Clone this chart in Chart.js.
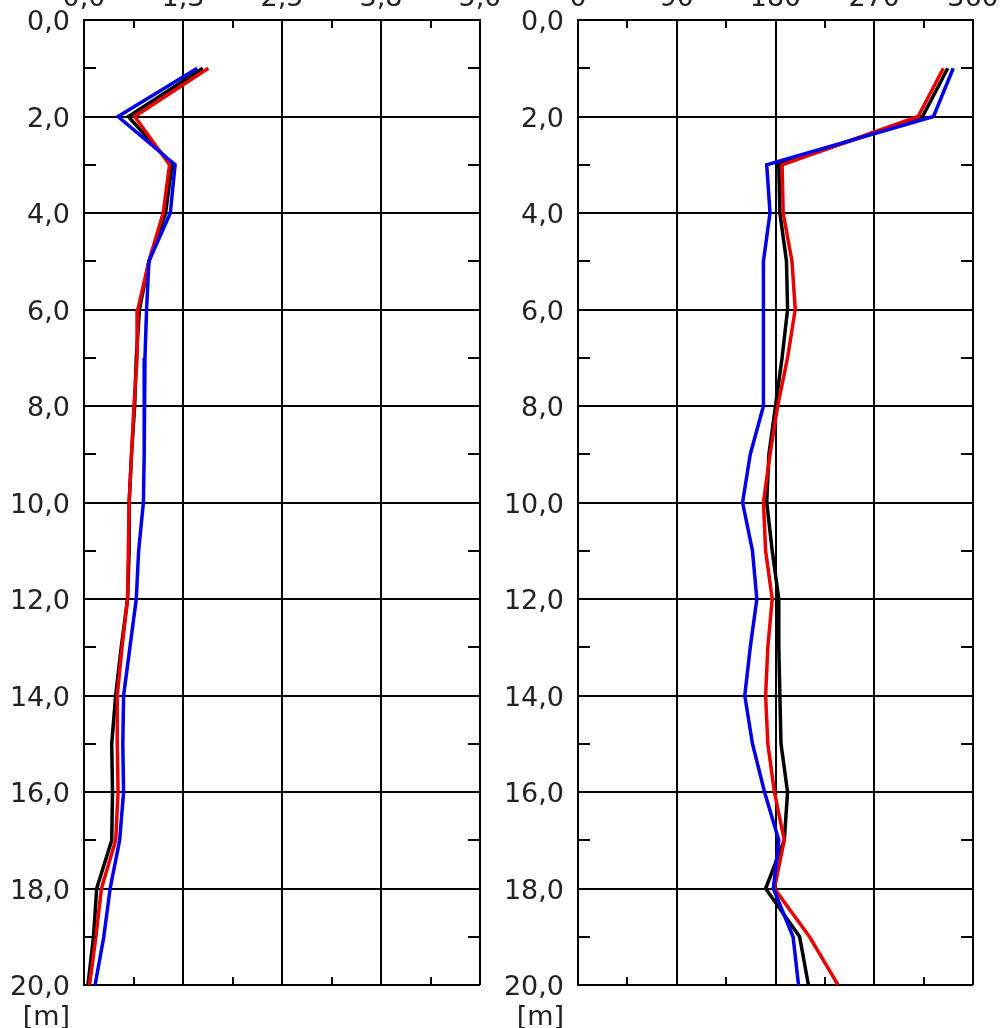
<!DOCTYPE html>
<html>
<head>
<meta charset="utf-8">
<script src="https://cdn.jsdelivr.net/npm/chart.js@4/dist/chart.umd.min.js"></script>
<style>
  html, body { margin: 0; padding: 0; background: #ffffff; overflow: hidden; }
  .wrap { position: absolute; left: 0; top: 0; width: 1005px; height: 1028px; }
</style>
</head>
<body>
<div class="wrap"><canvas id="c1" width="1005" height="1028"></canvas></div>
<div class="wrap"><canvas id="c2" width="1005" height="1028"></canvas></div>
<script>
// ---- Data ----
const depths = [1, 2, 3, 4, 5, 6, 7, 8, 9, 10, 11, 12, 13, 14, 15, 16, 17, 18, 19, 20];

// left panel (0 – 5)
const leftBlack = [1.50, 0.56, 1.11, 1.03, 0.82, 0.70, 0.66, 0.64, 0.60, 0.57, 0.57, 0.55, 0.47, 0.40, 0.35, 0.36, 0.35, 0.16, 0.12, 0.05];
const leftRed   = [1.57, 0.64, 1.08, 1.00, 0.82, 0.68, 0.67, 0.63, 0.60, 0.57, 0.56, 0.55, 0.48, 0.42, 0.42, 0.43, 0.40, 0.22, 0.15, 0.07];
const leftBlue  = [1.43, 0.43, 1.15, 1.09, 0.82, 0.79, 0.77, 0.76, 0.76, 0.75, 0.69, 0.66, 0.58, 0.50, 0.49, 0.50, 0.45, 0.33, 0.25, 0.14];

// right panel (0 – 360)
const rightBlack = [337, 314, 183, 184, 190, 191, 186, 180, 174, 172, 177, 183, 183, 184, 185, 191, 188, 171, 202, 210];
const rightRed   = [333, 310, 186, 187, 195, 198, 191, 182, 175, 169, 171, 177, 173, 171, 173, 179, 188, 179, 211, 237];
const rightBlue  = [342, 324, 172, 175, 169, 169, 169, 169, 157, 150, 159, 163, 157, 152, 159, 170, 183, 178, 196, 201];

// tick labels
const leftXTickLabels  = ['0,0', '1,3', '2,5', '3,8', '5,0'];
const rightXTickLabels = ['0', '90', '180', '270', '360'];
const yTickLabels = ['0,0', '2,0', '4,0', '6,0', '8,0', '10,0', '12,0', '14,0', '16,0', '18,0', '20,0'];
const leftXMinor  = [0.625, 1.875, 3.125, 4.375];
const rightXMinor = [45, 135, 225, 315];
const yMinor = [1, 3, 5, 7, 9, 11, 13, 15, 17, 19];
const unitLabel = '[m]';

// ---- Helpers ----
const FONT = { family: '"DejaVu Sans", Verdana, sans-serif', size: 27 };
const TEXT_COLOR = '#222';

function pts(vals) { return depths.map((d, i) => ({ x: vals[i], y: d })); }

const minorTicks = {
  id: 'minorTicks',
  afterDraw(chart, args, opts) {
    const ctx = chart.ctx, a = chart.chartArea;
    const xs = chart.scales.x, ys = chart.scales.y;
    ctx.save();
    ctx.strokeStyle = '#000';
    ctx.lineWidth = 2;
    ctx.beginPath();
    opts.xMinor.forEach(v => {
      const px = Math.round(xs.getPixelForValue(v));
      ctx.moveTo(px, a.top); ctx.lineTo(px, a.top + 8);
      ctx.moveTo(px, a.bottom); ctx.lineTo(px, a.bottom - 8);
    });
    opts.yMinor.forEach(v => {
      const py = Math.round(ys.getPixelForValue(v));
      ctx.moveTo(a.left, py); ctx.lineTo(a.left + 12, py);
      ctx.moveTo(a.right, py); ctx.lineTo(a.right - 12, py);
    });
    ctx.stroke();
    // unit label
    ctx.fillStyle = TEXT_COLOR;
    ctx.font = FONT.size + 'px ' + FONT.family;
    ctx.textAlign = 'right';
    ctx.textBaseline = 'alphabetic';
    ctx.fillText(unitLabel, a.left - 14, 1025);
    ctx.restore();
  }
};

function makeChart(id, series, xMin, xMax, xStep, xLabels, xMinor, plotLeft, plotRight) {
  return new Chart(document.getElementById(id), {
    type: 'scatter',
    data: {
      datasets: [
        { data: pts(series[2]), borderColor: '#0000e8' },
        { data: pts(series[1]), borderColor: '#e80000' },
        { data: pts(series[0]), borderColor: '#000000' }
      ].map(d => Object.assign(d, { showLine: true, borderWidth: 3.5, pointRadius: 0, tension: 0, fill: false }))
    },
    options: {
      responsive: false,
      animation: false,
      events: [],
      layout: { padding: { left: 0, top: 0, right: 1005 - plotRight, bottom: 1028 - 985 } },
      plugins: { legend: { display: false }, tooltip: { enabled: false }, minorTicks: { xMinor: xMinor, yMinor: yMinor } },
      scales: {
        x: {
          type: 'linear', position: 'top', min: xMin, max: xMax,
          afterFit: s => { s.height = 20; s.paddingLeft = 0; s.paddingRight = 0; },
          grid: { color: '#000', lineWidth: 2, drawTicks: false },
          border: { color: '#000', width: 2 },
          ticks: {
            stepSize: xStep, autoSkip: false, maxRotation: 0, padding: 5,
            color: TEXT_COLOR, font: FONT,
            callback: v => xLabels[Math.round((v - xMin) / xStep)]
          }
        },
        y: {
          type: 'linear', position: 'left', min: 0, max: 20, reverse: true,
          afterFit: s => { s.width = plotLeft; s.paddingTop = 0; s.paddingBottom = 0; },
          grid: { color: '#000', lineWidth: 2, drawTicks: false },
          border: { color: '#000', width: 2 },
          ticks: {
            stepSize: 2, autoSkip: false, padding: 14, labelOffset: 3,
            color: TEXT_COLOR, font: FONT,
            callback: v => yTickLabels[Math.round(v / 2)]
          }
        }
      }
    },
    plugins: [minorTicks]
  });
}

makeChart('c1', [leftBlack, leftRed, leftBlue], 0, 5, 1.25, leftXTickLabels, leftXMinor, 84, 480);
makeChart('c2', [rightBlack, rightRed, rightBlue], 0, 360, 90, rightXTickLabels, rightXMinor, 578, 973);
</script>
</body>
</html>
